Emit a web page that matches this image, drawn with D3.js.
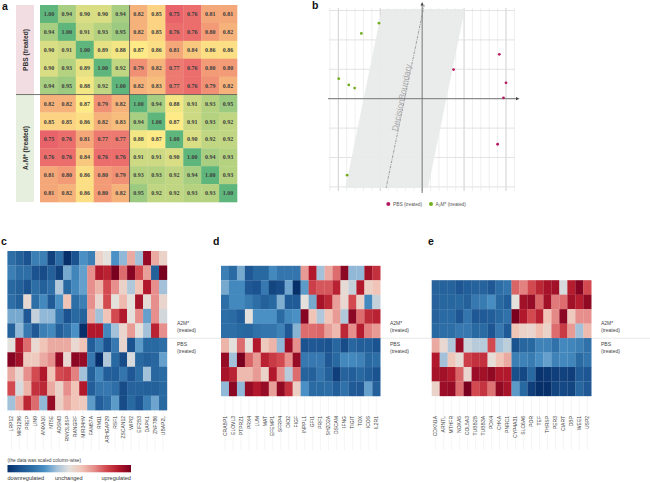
<!DOCTYPE html>
<html><head><meta charset="utf-8">
<script src="https://cdn.jsdelivr.net/npm/d3@7"></script>
<style>html,body{margin:0;padding:0;background:#fff}svg{display:block}text{font-family:"Liberation Sans",sans-serif}</style>
</head><body><svg id="c" width="650" height="482"></svg>
<script>
const corr = [
[1.00,.94,.90,.90,.94,.82,.85,.75,.76,.81,.81],
[.94,1.00,.91,.93,.95,.82,.85,.76,.76,.80,.82],
[.90,.91,1.00,.89,.88,.87,.86,.81,.84,.86,.86],
[.90,.93,.89,1.00,.92,.79,.82,.77,.76,.80,.80],
[.94,.95,.88,.92,1.00,.82,.83,.77,.76,.79,.82],
[.82,.82,.87,.79,.82,1.00,.94,.88,.91,.93,.95],
[.85,.85,.86,.82,.83,.94,1.00,.87,.91,.93,.92],
[.75,.76,.81,.77,.77,.88,.87,1.00,.90,.92,.92],
[.76,.76,.84,.76,.76,.91,.91,.90,1.00,.94,.93],
[.81,.80,.86,.80,.79,.93,.93,.92,.94,1.00,.93],
[.81,.82,.86,.80,.82,.95,.92,.92,.93,.93,1.00]];
const pbsPoints = [[1.84,1.51],[2.0,.54],[1.94,.03],[.75,.99],[1.80,-1.55]];
const a2mPoints = [[-1.03,2.57],[-1.45,2.22],[-1.99,.68],[-1.75,.47],[-1.61,.36],[-1.79,-2.6]];
const marginBand = [[-.96,3.05],[1.02,3.05],[.14,-3.04],[-1.83,-3.04]];
const boundary = [[.05,3.19],[-.86,-3.04]];
const genesC = ["LRP12","MIR1296","PREP","LIN9","ANXA10","NT5E","AOSM3","RNY3L8SP","RANGRF","MIR34HV","FAM57A","RM11","ARHGAP29","RSF1","ZSCAN12","WIPI2","EIF2B3","DAPK1","ZNF786","UBAP2L"];
const genesD = ["CRABP1","ELOVL3","PTPRZ1","PRX4","LUM","MAT","EFEMP1","SFRP4","DIO2","FIGF","INPPL1","GFI1","PRF1","SH2D2A","DSCAM","IFNG","TIGIT","TOX","ICOS","IL2R1"];
const genesE = ["CDKN1A","ARNTL","MTHFR","NOXA5","COL5A3","TUBB2B","TUBB3A","PDK4","CHKA","PNRC1","CYP4A31","SLC6A6","POR","TEF","THRSP","PER3","CIART","DBP","WEE1","USP2"];
const heatC = [
[-3,-3.5,-4,-2.5,-2.5,-4.5,-3,-5,-4,-2,-2.5,.5,0,-2,-1.2,1.5,-1,4.5,1.5,.5],
[-2.5,-3,-3,-4,-4.2,-3.5,-4.5,-1.5,-2.3,-1.7,2,4,3.8,5,2.5,4.8,3,1.7,-3.5,5],
[-3.2,-3.5,-4,-3,-3.5,-3,-.8,-3.2,-2.2,-1.7,2,1.3,3,2,.5,-.8,1,4,2,-1],
[-3,-3.5,.3,-3,-2.2,-3.7,-2,1,-3,-2.5,2,.4,3,0,1.2,0,4.2,.2,2,.4],
[-1.5,-1.5,-3.8,-.5,-1.2,-1.2,-2.7,-4,-3.2,-3.4,1.5,-1,1,3,4,0,2,-1.7,2,-.3],
[-3.5,-1.2,-2.7,-3.8,-2.5,-2.2,-3.6,-3,-2,-5,4,4,-2.2,-1,.4,1.8,0,-1,3.8,2],
[0,4,2.5,.3,1,1.5,1.5,1.5,.3,1,-3.6,-2.5,-4,-2.7,.4,-4,-1.8,-3.2,-3.2,-3],
[4.8,4.3,.8,.8,1.5,2,4.5,.3,4.7,4.5,-2.7,-5,-.8,-3.2,-4.2,-.2,-3.2,-3.5,-3.3,-1.7],
[1.5,.4,2,3,4,1,3,3.2,2.2,-1,-3.5,-2.2,-3.6,-3.6,-2.8,-3.8,-3,-1,-3.3,-3.1],
[3,-.2,1.3,3.5,3.7,1.5,.5,2,1,4,-3.6,-2.8,-2.7,-3,-4.2,-3.4,-3.4,-3.5,-3.5,-3.2],
[-1,1.5,3.7,2.5,-1.2,4.5,.6,1.5,1,.8,-1.8,-3.6,-3,-1.8,-4.2,-3.2,-3.9,-2.5,-1.6,-3.2]];
const heatD = [
[-2.5,-3.1,-1.5,-3.8,-3.2,-3.2,-2.2,-2.8,-2.8,-2.8,1.8,4,-1,1.5,2.5,4.7,-1.2,-1.2,4.3,3.5],
[-1.5,-2.2,-2.2,-3.8,-4,-2.7,-4.4,-4.2,-1.6,-5,-1.8,3.2,2.8,2.8,3.8,.2,-.5,4,.6,1],
[-3,-2.2,-2.2,-2.6,-3,-3.5,-3.2,-1.4,-3.7,-3.7,0,-1.5,4.2,3.7,1.7,.3,3,.5,-2.2,-.5],
[-3,-3.1,-3.6,0,-2,-2,-2,-3.1,-2.2,-2,4.8,1,-.8,1,1.8,-.8,4.7,2.5,3.6,3.8],
[-3,-3,-3.2,-3.3,-2.9,-2.8,-2.8,-2.4,-3.8,-1.3,2.5,2.5,2.6,1.7,1.2,3.7,2,3.9,2.2,1.8],
[1.3,0,2.5,0,4,.8,1.3,-1.2,4.4,2,-4,-3.8,-3.9,-4,-3.3,-4.2,-3.3,-3.6,-3.6,-4],
[4.5,-1,5,2.6,1.8,3.8,3.3,3,2,4.5,-2.7,-2.7,-2.7,-3.8,-3.2,-2.2,-2.2,-2.4,-3.2,-3],
[4.2,3.8,1.2,1.2,1.8,.5,4,2,-.7,2.5,-3.4,-3.5,-2.8,-3.5,-4.6,-3.4,-3.6,-3.2,-3.6,-4],
[-1.2,4.7,-1.2,4.5,4,4.5,1.7,4.6,3.5,.6,-2,-3.1,-3.1,-3,-3.6,-2.9,-3.7,-3.8,-1.7,-3.5]];
const heatE = [
[-3.4,-3.4,-3.4,-3.9,-3.6,-3.4,-3.4,-3.8,-3,-2.8,2.6,2.2,3,3.7,4.2,4.3,-.2,3.9,4.8,3],
[-3.4,-3.3,-3.3,-3.2,-3.5,-2.7,-2.6,-2.1,-3.2,-3.6,0,4.3,4.5,2.6,4.3,2.3,2.5,4.3,3.9,4.6],
[-3.4,-3.1,-3.1,-3.9,-2.8,-3.8,-3.7,-3.6,-3.2,-2.9,5,4,3,3.8,1,2.1,4.7,.8,2,2],
[-3.2,-3,-3,-2.7,-2.7,-3.2,-3.1,-3.9,-2.7,-3.7,1,.5,.4,1.1,.5,2.5,3.3,1.8,-1,1.2],
[1.5,.3,-.8,4.5,-.4,-.7,-.7,3,-1,-.6,-4,-3.3,-3.2,-2.4,-2.4,-2.9,-2.2,-2.3,-2.5,-2.9],
[4,-1,.9,.2,3.2,3.5,3.5,.1,1,1.5,-2.5,-2.4,-2.6,-2.1,-1.7,-2.4,-2.2,-2.3,-3.1,-2.8],
[4.2,4.3,4,2.6,.4,4.4,4.3,4.6,4,4,-4.1,-4.3,-3.2,-4.9,-4.8,-4.6,-4.5,-4.6,-3.7,-3.9],
[.5,4.4,4.5,2.5,5,3,3.4,2.4,4.6,4.2,-1.8,-3.2,-4.6,-5,-5,-4.4,-4.3,-4.4,-3.3,-3.8]];
const heatLevels = [-5,-4,-3,-2,-1,0,1,2,3,4,5];
const heatColors = ["#07306b","#1b5390","#2d6ea6","#4a90c4","#a3c2da","#e4e0dc","#f0c4b6","#e68f8c","#d2494f","#b2182b","#7a0020"];

const svg = d3.select("#c");
const color = d3.scaleLinear().domain(heatLevels).range(heatColors).clamp(true);
const corrColor = d3.scaleLinear().domain([.75,.87,1]).range(["#e9636b","#feea86","#5fb67c"]);

function panelLetter(t,x,y){svg.append("text").attr("x",x).attr("y",y).attr("font-size",10.5).attr("font-weight",700).attr("fill","#111").text(t);}
panelLetter("a",2,10);panelLetter("b",312,9);panelLetter("c",1,245);panelLetter("d",213,245);panelLetter("e",428,245);

// a
(function(){
  const idx=d3.range(11);
  const x=d3.scaleBand().domain(idx).range([40,237]);
  const y=d3.scaleBand().domain(idx).range([5,202]);
  const g=svg.append("g");
  g.append("rect").attr("x",16).attr("y",5).attr("width",18).attr("height",89).attr("fill","#f2dde3");
  g.append("rect").attr("x",16).attr("y",94).attr("width",18).attr("height",108).attr("fill","#e6eedd");
  corr.forEach((r,i)=>r.forEach((v,j)=>{
    g.append("rect").attr("x",x(j)).attr("y",y(i)).attr("width",x.bandwidth()+.3).attr("height",y.bandwidth()+.3).attr("fill",corrColor(v));
    g.append("text").attr("x",x(j)+x.bandwidth()/2).attr("y",y(i)+y.bandwidth()/2+2.1)
      .attr("text-anchor","middle").attr("font-size",6).attr("font-weight",700).attr("fill","#3d3d3d")
      .style("font-family","'Liberation Serif',serif").text(v.toFixed(2));
  }));
  g.append("line").attr("x1",16).attr("x2",237).attr("y1",y(5)).attr("y2",y(5)).attr("stroke","#555").attr("stroke-width",.8);
  g.append("line").attr("x1",x(5)).attr("x2",x(5)).attr("y1",5).attr("y2",202).attr("stroke","#555").attr("stroke-width",.8);
  [["PBS (treated)",50],["A\u2082M* (treated)",148]].forEach(([t,c])=>{
    g.append("text").attr("transform",`translate(28,${c}) rotate(-90)`).attr("text-anchor","middle")
     .attr("font-size",6.6).attr("font-weight",700).attr("fill","#333").text(t);
  });
})();

// b
(function(){
  const x=d3.scaleLinear().domain([-2,2]).range([338.3,506]);
  const y=d3.scaleLinear().domain([-3,3]).range([186.9,10.5]);
  const g=svg.append("g");
  d3.range(-2.2,2.21,.2).forEach(v=>{
    const major=Math.abs(v*10%10)<.01||Math.abs(Math.abs(v*10%10)-10)<.01;
    g.append("line").attr("x1",x(v)).attr("x2",x(v)).attr("y1",8).attr("y2",191)
     .attr("stroke",major?"#cfcfcf":"#e9e9e9").attr("stroke-width",major?1:.7);
  });
  d3.range(-3,3.01,1).forEach(v=>{
    g.append("line").attr("x1",329).attr("x2",515).attr("y1",y(v)).attr("y2",y(v)).attr("stroke","#dcdcdc").attr("stroke-width",.8);
  });
  g.append("polygon").attr("points",marginBand.map(p=>[x(p[0]),y(p[1])].join(",")).join(" ")).attr("fill","#e8eaea").attr("opacity",.92);
  g.append("line").attr("x1",x(boundary[0][0])).attr("y1",y(boundary[0][1])).attr("x2",x(boundary[1][0])).attr("y2",y(boundary[1][1]))
   .attr("stroke","#777").attr("stroke-width",.7).attr("stroke-dasharray","2.5 1 .8 1");
  const ang=Math.atan2(y(boundary[1][1])-y(boundary[0][1]),x(boundary[1][0])-x(boundary[0][0]))*180/Math.PI-180;
  g.append("text").attr("transform",`translate(${x(-.42)},${y(.02)}) rotate(${ang})`).attr("text-anchor","middle")
   .attr("font-size",8.4).attr("fill","#a8a8a8").text("DecisionBoundary");
  g.append("line").attr("x1",328).attr("x2",517).attr("y1",y(0)).attr("y2",y(0)).attr("stroke","#777").attr("stroke-width",1);
  g.append("line").attr("x1",x(0)).attr("x2",x(0)).attr("y1",4).attr("y2",193).attr("stroke","#777").attr("stroke-width",1);
  g.append("path").attr("d",`M519.5,${y(0)}l-3.5,-1.6v3.2z`).attr("fill","#444");
  g.append("path").attr("d",`M${x(0)},2l-1.6,3.5h3.2z`).attr("fill","#444");
  const dots=(pts,c)=>g.selectAll(null).data(pts).enter().append("circle").attr("cx",d=>x(d[0])).attr("cy",d=>y(d[1])).attr("r",1.4).attr("fill",c);
  dots(pbsPoints,"#b5195f");dots(a2mPoints,"#74ae1e");
  g.append("circle").attr("cx",388.3).attr("cy",204).attr("r",2).attr("fill","#b5195f");
  g.append("circle").attr("cx",431).attr("cy",204).attr("r",2).attr("fill","#74ae1e");
  g.append("text").attr("x",393).attr("y",206).attr("font-size",4.8).attr("fill","#555").text("PBS (treated)");
  g.append("text").attr("x",435.5).attr("y",206).attr("font-size",4.8).attr("fill","#555").text("A\u2082M* (treated)");
})();

// shared row separator
svg.append("line").attr("x1",167).attr("x2",650).attr("y1",338.2).attr("y2",338.2).attr("stroke","#dedede").attr("stroke-width",.7);

function heatmap(data,genes,x0,x1,y0,labelX){
  const x=d3.scaleBand().domain(d3.range(genes.length)).range([x0,x1]);
  const y=d3.scaleBand().domain(d3.range(data.length)).range([y0,y0+data.length*14.47]);
  const g=svg.append("g");
  genes.forEach((t,j)=>{
    const cx=x(j)+x.bandwidth()/2;
    g.append("line").attr("x1",cx).attr("x2",cx).attr("y1",y0+data.length*14.47).attr("y2",450).attr("stroke","#f0f0f0").attr("stroke-width",.7);
    g.append("text").attr("transform",`translate(${cx+1.7},416) rotate(-90)`).attr("text-anchor","end")
     .attr("font-size",5).attr("fill","#444").text(t);
  });
  data.forEach((r,i)=>r.forEach((v,j)=>{
    g.append("rect").attr("x",x(j)).attr("y",y(i)).attr("width",x.bandwidth()+.2).attr("height",y.bandwidth()+.2).attr("fill",color(v));
  }));
  [["A2M*",324.5],["(treated)",332],["PBS",346],["(treated)",353]].forEach(([t,yy])=>{
    g.append("text").attr("x",labelX).attr("y",yy).attr("font-size",5).attr("fill","#444").text(t);
  });
}
heatmap(heatC,genesC,7.4,167,251,177);
heatmap(heatD,genesD,221,380.3,265.8,390);
heatmap(heatE,genesE,431.7,591.3,280.2,601);

// legend
(function(){
  const defs=svg.append("defs");
  const grad=defs.append("linearGradient").attr("id","cb");
  heatLevels.forEach(l=>grad.append("stop").attr("offset",(l+5)/10).attr("stop-color",color(l)));
  const lx=d3.scaleLinear().domain([-5,5]).range([7.5,131]);
  svg.append("rect").attr("x",lx(-5)).attr("y",465).attr("width",lx(5)-lx(-5)).attr("height",7.3).attr("fill","url(#cb)");
  svg.append("text").attr("x",7.5).attr("y",461.5).attr("font-size",4.8).attr("fill","#444").text("(the data was scaled column-wise)");
  const t=(s,xx,a)=>svg.append("text").attr("x",xx).attr("y",480).attr("text-anchor",a).attr("font-size",5.6).attr("fill","#333").text(s);
  t("downregulated",7.5,"start");t("unchanged",lx(0)-.5,"middle");t("upregulated",131,"end");
})();
</script></body></html>
